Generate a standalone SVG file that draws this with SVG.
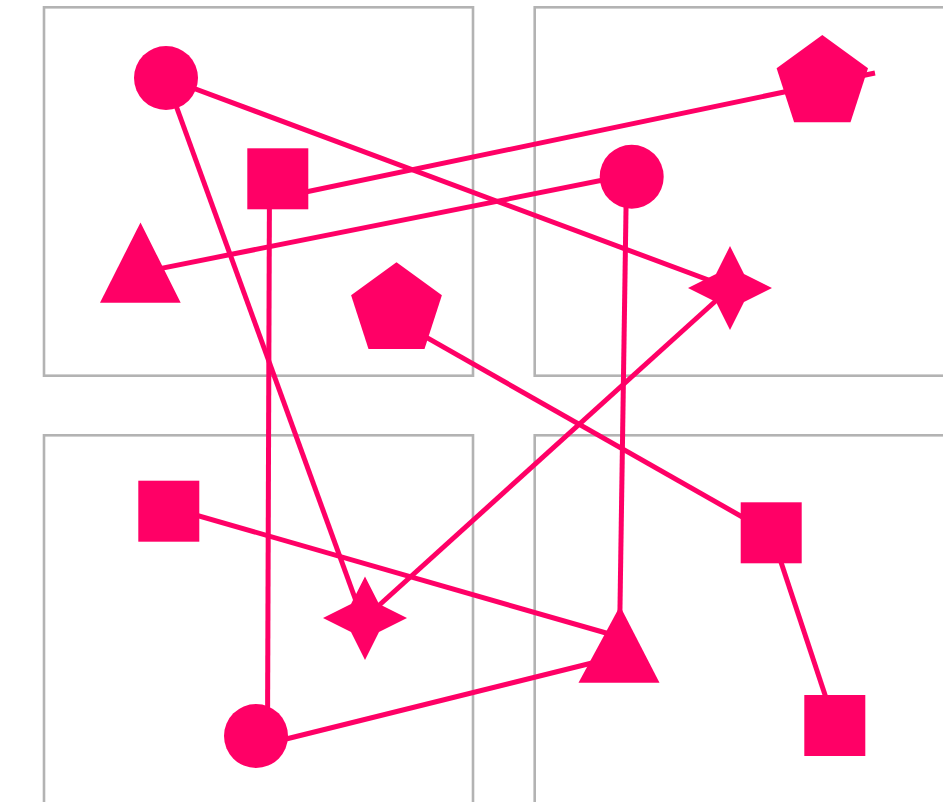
<svg xmlns="http://www.w3.org/2000/svg" width="943" height="802" viewBox="0 0 943 802">
<style>
.box{fill:none;stroke:#b3b3b3;stroke-width:2.6}
.edge{stroke:#ff0066;stroke-width:5;fill:none}
.shape{fill:#ff0066}
</style>
<rect width="943" height="802" fill="#ffffff"/>
<g id="panels">
<rect class="box" x="44" y="7.3" width="429" height="368.4"/>
<rect class="box" x="534.7" y="7.3" width="429" height="368.4"/>
<rect class="box" x="44" y="435.3" width="429" height="368.4"/>
<rect class="box" x="534.7" y="435.3" width="429" height="368.4"/>
</g>
<g id="connectors">
<line class="edge" x1="166" y1="78" x2="730" y2="288"/>
<line class="edge" x1="166" y1="78" x2="360" y2="612"/>
<line class="edge" x1="277" y1="198" x2="875" y2="73"/>
<line class="edge" x1="140" y1="272.6" x2="632" y2="174.3"/>
<line class="edge" x1="269.5" y1="178" x2="267.5" y2="736"/>
<line class="edge" x1="397" y1="320.7" x2="770" y2="532.7"/>
<line class="edge" x1="626.5" y1="177" x2="619.5" y2="640"/>
<line class="edge" x1="730" y1="288" x2="365" y2="618"/>
<line class="edge" x1="168" y1="507" x2="620" y2="637"/>
<line class="edge" x1="270" y1="743" x2="600" y2="661"/>
<line class="edge" x1="771" y1="532" x2="835" y2="725"/>
</g>
<g id="circle-a"><circle class="shape" cx="166" cy="78" r="32"/></g>
<g id="square-b"><rect class="shape" x="247.3" y="148.3" width="61" height="61"/></g>
<g id="triangle-c"><polygon class="shape" points="140.5,222.5 180.7,302.7 100,302.7"/></g>
<g id="pentagon-d"><polygon class="shape" points="396.5,262.3 441.9,295.3 424.5,348.9 368.5,348.9 351.1,295.3"/></g>
<g id="circle-e"><circle class="shape" cx="631.7" cy="176.7" r="32"/></g>
<g id="pentagon-f"><polygon class="shape" points="822.3,35 868,68.2 850.5,122.3 794.1,122.3 776.6,68.2"/></g>
<g id="star-g"><path class="shape" d="M730,246 L744,274 L772,288 L744,302 L730,330 L716,302 L688,288 L716,274 Z"/></g>
<g id="star-h"><path class="shape" d="M365,576.5 L379,604 L407,618 L379,632 L365,660 L351,632 L323,618 L351,604 Z"/></g>
<g id="square-i"><rect class="shape" x="138.3" y="480.7" width="61" height="61"/></g>
<g id="square-j"><rect class="shape" x="740.7" y="502.3" width="61" height="61"/></g>
<g id="triangle-k"><polygon class="shape" points="620,606 659.5,682.7 578.5,682.7"/></g>
<g id="circle-l"><circle class="shape" cx="256" cy="736" r="32"/></g>
<g id="square-m"><rect class="shape" x="804.3" y="695" width="61" height="61"/></g>
</svg>
